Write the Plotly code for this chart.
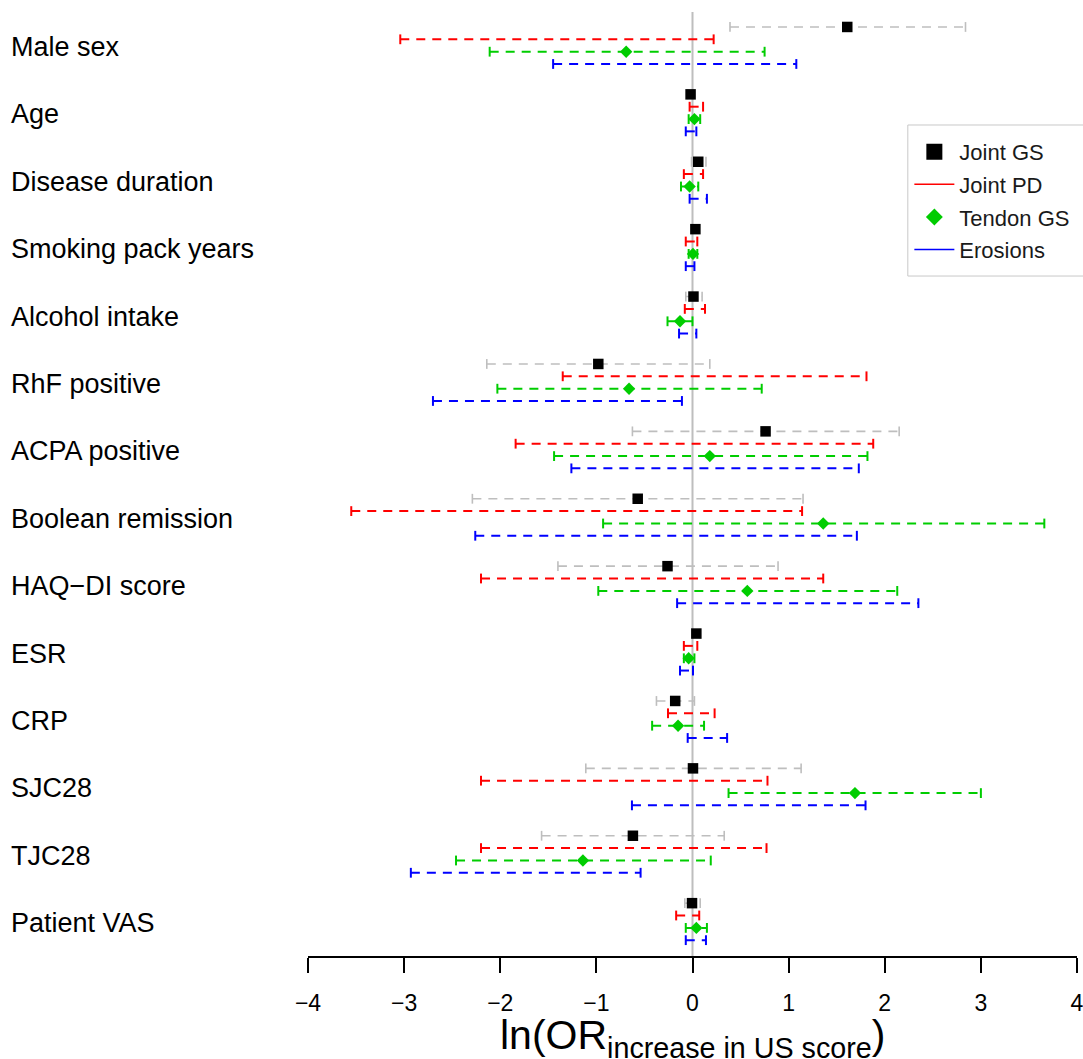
import plotly.graph_objects as go

categories = ["Male sex", "Age", "Disease duration", "Smoking pack years",
              "Alcohol intake", "RhF positive", "ACPA positive",
              "Boolean remission", "HAQ\u2212DI score", "ESR", "CRP",
              "SJC28", "TJC28", "Patient VAS"]

# Joint GS (estimate + CI)
gs_est = [1.61, -0.02, 0.06, 0.03, 0.01, -0.98, 0.76, -0.57, -0.26, 0.04, -0.18, 0.005, -0.62, -0.005]
gs_lo = [0.39, -0.05, -0.01, 0.00, -0.07, -2.14, -0.625, -2.29, -1.40, 0.00, -0.375, -1.11, -1.57, -0.08]
gs_hi = [2.84, 0.01, 0.14, 0.06, 0.10, 0.18, 2.15, 1.15, 0.89, 0.08, 0.02, 1.13, 0.33, 0.08]

# Joint PD (CI only)
pd_lo = [-3.04, -0.03, -0.09, -0.07, -0.08, -1.35, -1.84, -3.55, -2.20, -0.09, -0.255, -2.20, -2.20, -0.17]
pd_hi = [0.22, 0.11, 0.11, 0.05, 0.13, 1.81, 1.88, 1.14, 1.36, 0.05, 0.23, 0.78, 0.77, 0.07]

# Tendon GS (estimate + CI)
tgs_est = [-0.69, 0.02, -0.03, 0.005, -0.13, -0.66, 0.18, 1.36, 0.57, -0.04, -0.15, 1.69, -1.14, 0.04]
tgs_lo = [-2.11, -0.04, -0.12, -0.04, -0.26, -2.03, -1.44, -0.93, -0.98, -0.09, -0.42, 0.375, -2.46, -0.07]
tgs_hi = [0.75, 0.08, 0.06, 0.05, 0.00, 0.72, 1.82, 3.66, 2.13, 0.02, 0.12, 3.00, 0.19, 0.15]

# Erosions (CI only)
ero_lo = [-1.45, -0.07, -0.03, -0.07, -0.14, -2.70, -1.26, -2.26, -0.16, -0.13, -0.05, -0.63, -2.93, -0.07]
ero_hi = [1.08, 0.04, 0.15, 0.02, 0.04, -0.11, 1.73, 1.71, 2.35, 0.005, 0.36, 1.80, -0.54, 0.14]

series_names = ["Joint GS", "Joint PD", "Tendon GS", "Erosions"]
x_ticks = [-4, -3, -2, -1, 0, 1, 2, 3, 4]
x_title = "ln(OR<sub>increase in US score</sub>)"

FONT = "Liberation Sans, Arial, Helvetica, sans-serif"
GRAY = "#BEBEBE"
RED = "#FF0000"
GREEN = "#00CD00"
BLUE = "#0000FF"

offsets = [-0.297, -0.114, 0.07, 0.252]
n = len(categories)


def ci_traces(lo, hi, off, color, width):
    xs, ys, cx, cy = [], [], [], []
    for i in range(n):
        yy = i + off
        xs += [lo[i], hi[i], None]
        ys += [yy, yy, None]
        cx += [lo[i], hi[i]]
        cy += [yy, yy]
    line = go.Scatter(x=xs, y=ys, mode="lines", showlegend=False, hoverinfo="skip",
                      line=dict(color=color, width=width, dash="9px,7px"))
    caps = go.Scatter(x=cx, y=cy, mode="markers", showlegend=False, hoverinfo="skip",
                      marker=dict(symbol="line-ns", size=7,
                                  line=dict(color=color, width=width)))
    return [line, caps]


fig = go.Figure()
fig.add_shape(type="line", xref="x", yref="paper", x0=0, x1=0, y0=0, y1=1,
              line=dict(color=GRAY, width=2), layer="below")
# legend frame
fig.add_shape(type="rect", xref="paper", yref="paper", x0=0.780, x1=1.02,
              y0=0.7203, y1=0.8803, line=dict(color="#C8C8C8", width=1),
              fillcolor="white", layer="above")

for t in ci_traces(gs_lo, gs_hi, offsets[0], GRAY, 1.6):
    fig.add_trace(t)
for t in ci_traces(pd_lo, pd_hi, offsets[1], RED, 2):
    fig.add_trace(t)
for t in ci_traces(tgs_lo, tgs_hi, offsets[2], GREEN, 2):
    fig.add_trace(t)
for t in ci_traces(ero_lo, ero_hi, offsets[3], BLUE, 2):
    fig.add_trace(t)

fig.add_trace(go.Scatter(x=gs_est, y=[i + offsets[0] for i in range(n)], mode="markers",
                         showlegend=False, hoverinfo="skip",
                         marker=dict(symbol="square", size=10.5, color="black")))
fig.add_trace(go.Scatter(x=tgs_est, y=[i + offsets[2] for i in range(n)], mode="markers",
                         showlegend=False, hoverinfo="skip",
                         marker=dict(symbol="diamond", size=9.5, color=GREEN)))

# legend entries
fig.add_trace(go.Scatter(x=[None], y=[None], mode="markers", name=series_names[0],
                         legendgroup="a", marker=dict(symbol="square", size=16, color="black")))
fig.add_trace(go.Scatter(x=[None], y=[None], mode="lines", name=series_names[1],
                         legendgroup="b", line=dict(color=RED, width=1.5)))
fig.add_trace(go.Scatter(x=[None], y=[None], mode="markers", name=series_names[2],
                         legendgroup="c", marker=dict(symbol="diamond", size=13, color="#00CC00")))
fig.add_trace(go.Scatter(x=[None], y=[None], mode="lines", name=series_names[3],
                         legendgroup="d", line=dict(color=BLUE, width=1.5)))

for i, c in enumerate(categories):
    fig.add_annotation(x=-0.389, xref="paper", y=i, yref="y", text=c, showarrow=False,
                       xanchor="left", yanchor="middle",
                       font=dict(family=FONT, size=27, color="black"))

# x-axis title
fig.add_annotation(x=0.5, xref="paper", y=-0.057, yref="paper", text=x_title,
                   showarrow=False, xanchor="center", yanchor="top",
                   font=dict(family=FONT, size=41, color="black"))

fig.update_layout(
    width=1083, height=1059,
    margin=dict(l=308, r=6, t=12, b=103, autoexpand=False),
    paper_bgcolor="white", plot_bgcolor="white",
    font=dict(family=FONT, color="black"),
    showlegend=True,
    legend=dict(x=0.782, y=0.874, xanchor="left", yanchor="top",
                bgcolor="rgba(0,0,0,0)", borderwidth=0,
                font=dict(family=FONT, size=22, color="#1a1a1a"),
                tracegroupgap=1, itemwidth=40, traceorder="grouped"),
    xaxis=dict(range=[-4, 4], tickvals=x_ticks, showgrid=False, zeroline=False,
               showline=True, linecolor="black", linewidth=1.5, automargin=False,
               ticks="outside", ticklen=15, tickwidth=1.5, tickcolor="black",
               tickfont=dict(family=FONT, size=23, color="black"),
               ticklabelstandoff=11, ticklabeloverflow="allow"),
    yaxis=dict(range=[13.487, -0.519], showgrid=False, zeroline=False, showline=False,
               showticklabels=False, ticks="", automargin=False),
)

fig.write_html("out.html", config={"displayModeBar": False},
               post_script="document.body.style.margin='0';document.body.style.overflow='hidden';")
